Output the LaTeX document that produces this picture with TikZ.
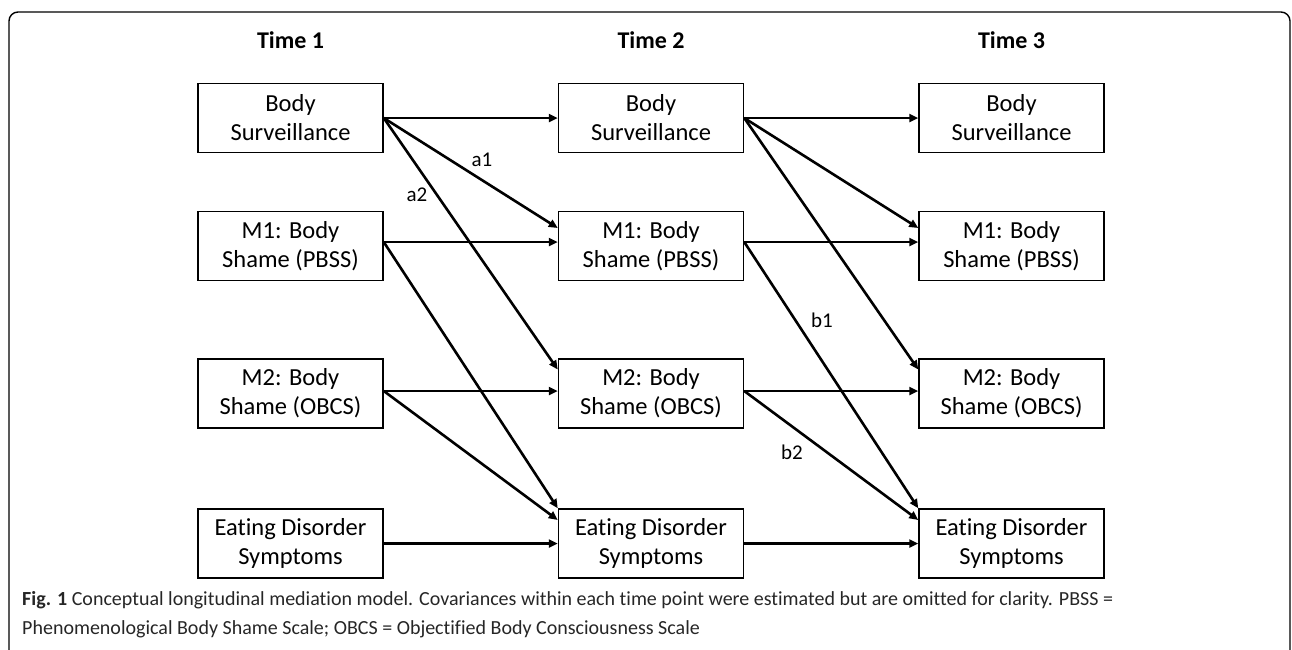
\documentclass[tikz,border=0pt]{standalone}
\usepackage{fontspec}
\setmainfont[Ligatures=NoCommon]{Carlito}
\usetikzlibrary{arrows.meta}
\begin{document}
\begin{tikzpicture}[x=1pt,y=-1pt,
  varbox/.style={draw=black,line width=1.5pt,minimum width=185pt,minimum height=69pt,align=center,font=\fontsize{24.5}{29}\selectfont,inner sep=0pt},
  conn/.style={line width=2.6pt,-{Triangle[length=9pt,width=8pt]}},
  lab/.style={font=\fontsize{21}{24}\selectfont,inner sep=0pt},
  hdr/.style={font=\bfseries\fontsize{24}{28}\selectfont,inner sep=0pt},
  captext/.style={font=\fontsize{20}{22}\selectfont,inner sep=0pt,anchor=base west,text=black!85}
]
\useasboundingbox (0,0) rectangle (1292,649);
% frame
\draw[line width=1.4pt,rounded corners=9pt] (9,660) -- (9,12) -- (1290,12) -- (1290,660);
% headers
\node[hdr] (h1) at (290.5,40) {Time 1};
\node[hdr] (h2) at (651,40) {Time 2};
\node[hdr] (h3) at (1011.5,40) {Time 3};
% boxes
\foreach \c/\x in {1/290.5,2/651,3/1011.5}{
  \node[varbox] (bs\c) at (\x,118) {Body\\Surveillance};
  \node[varbox] (mo\c) at (\x,246) {M1: Body\\Shame (PBSS)};
  \node[varbox] (mt\c) at (\x,393.5) {M2: Body\\Shame (OBCS)};
  \node[varbox] (ed\c) at (\x,543.5) {Eating Disorder\\Symptoms};
}
% connectors
\foreach \a/\b in {1/2,2/3}{
  \draw[conn] (bs\a.east) -- (bs\b.west);
  \draw[conn] ([yshift=4pt]mo\a.east) -- ([yshift=4pt]mo\b.west);
  \draw[conn] ([yshift=2.5pt]mt\a.east) -- ([yshift=2.5pt]mt\b.west);
  \draw[conn] (ed\a.east) -- (ed\b.west);
  \draw[conn] (bs\a.east) -- ([yshift=18pt]mo\b.west);
  \draw[conn] (bs\a.east) -- ([yshift=24pt]mt\b.west);
  \draw[conn] ([yshift=4pt]mo\a.east) -- (ed\b.north west);
  \draw[conn] ([yshift=2.5pt]mt\a.east) -- ([yshift=23.5pt]ed\b.west);
}
% labels
\node[lab] (la1) at (482,160) {a1};
\node[lab] (la2) at (417,195) {a2};
\node[lab] (lb1) at (822,320) {b1};
\node[lab] (lb2) at (792,452) {b2};
% caption
\node[captext] (c1) at (22,605) {\textbf{Fig. 1} Conceptual longitudinal mediation model. Covariances within each time point were estimated but are omitted for clarity. PBSS =};
\node[captext] (c2) at (22,634) {Phenomenological Body Shame Scale; OBCS = Objectified Body Consciousness Scale};
\end{tikzpicture}
\end{document}
